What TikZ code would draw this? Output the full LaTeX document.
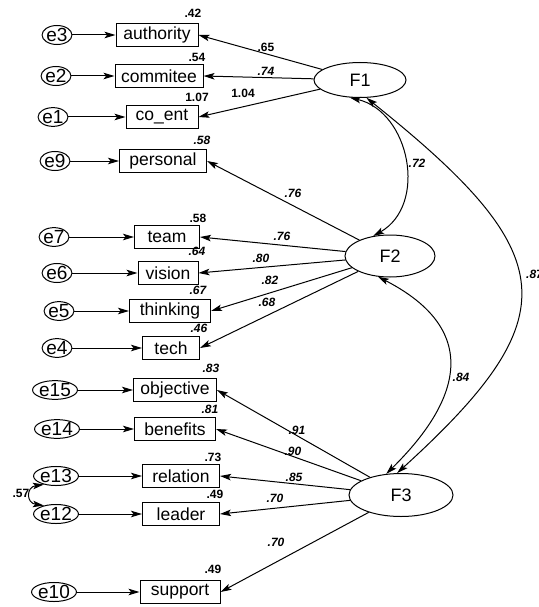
\documentclass[tikz,border=0pt]{standalone}
\usepackage{fontspec}
\setmainfont{Liberation Sans}
\usetikzlibrary{arrows.meta,shapes.geometric}
\begin{document}
\begin{tikzpicture}[x=1pt,y=-1pt,
  tip/.tip={Stealth[length=11pt,width=6.5pt,inset=2.5pt]},
  ind/.style={draw, line width=1pt, minimum height=23pt, inner xsep=3pt, inner ysep=0pt, font=\fontsize{17.5}{18}\selectfont},
  err/.style={draw, ellipse, line width=1pt, minimum width=28pt, minimum height=18pt, inner sep=0pt, font=\fontsize{19}{19}\selectfont},
  lat/.style={draw, ellipse, line width=1pt, inner sep=0pt, font=\fontsize{18}{18}\selectfont},
  num/.style={font=\bfseries\fontsize{12}{12}\selectfont, inner sep=0pt},
  numi/.style={font=\bfseries\itshape\fontsize{12}{12}\selectfont, inner sep=0pt},
  pth/.style={line width=1pt, -tip},
  cov/.style={line width=1pt, tip-tip},
]
\useasboundingbox (0,0) rectangle (538,607);

% latent factors
\node[lat, minimum width=92pt, minimum height=35pt] (F1) at (360,80) {F1};
\node[lat, minimum width=90pt, minimum height=42pt] (F2) at (390,256) {F2};
\node[lat, minimum width=104pt, minimum height=43pt] (F3) at (401,495) {F3};

% indicators
\node[ind, minimum width=82pt] (authority) at (157,35) {authority};
\node[ind, minimum width=88pt] (commitee) at (159,76) {commitee};
\node[ind, minimum width=72pt] (coent) at (162,117) {co\_ent};
\node[ind, minimum width=87pt] (personal) at (163,161) {personal};
\node[ind, minimum width=65pt] (team) at (167,237) {team};
\node[ind, minimum width=60pt] (vision) at (168,273) {vision};
\node[ind, minimum width=81pt] (thinking) at (170,311) {thinking};
\node[ind, minimum width=57pt] (tech) at (171,348) {tech};
\node[ind, minimum width=83pt] (objective) at (175,390) {objective};
\node[ind, minimum width=81pt] (benefits) at (175,429) {benefits};
\node[ind, minimum width=77pt] (relation) at (181,476) {relation};
\node[ind, minimum width=77pt] (leader) at (181,514) {leader};
\node[ind, minimum width=80pt] (support) at (180,592) {support};

% errors
\node[err] (e3) at (57,35) {e3};
\node[err] (e2) at (56,76) {e2};
\node[err] (e1) at (53,117) {e1};
\node[err] (e9) at (55,161) {e9};
\node[err] (e7) at (54,237) {e7};
\node[err] (e6) at (57,273) {e6};
\node[err] (e5) at (59,311) {e5};
\node[err] (e4) at (57,348) {e4};
\node[err] (e15) at (55,390) {e15};
\node[err] (e14) at (57,429) {e14};
\node[err] (e13) at (56,476) {e13};
\node[err] (e12) at (56,514) {e12};
\node[err] (e10) at (54,592) {e10};

% error paths
\foreach \e/\b in {e3/authority,e2/commitee,e1/coent,e9/personal,e7/team,e6/vision,e5/thinking,e4/tech,e15/objective,e14/benefits,e13/relation,e12/leader,e10/support}
  \draw[pth] (\e) -- (\b);

% loadings
\foreach \b in {authority,commitee,coent}
  \draw[pth] (F1) -- (\b.east);
\foreach \b in {personal,team,vision,thinking,tech}
  \draw[pth] (F2) -- (\b.east);
\foreach \b in {objective,benefits,relation,leader,support}
  \draw[pth] (F3) -- (\b.east);

% covariances
\draw[cov] (F1.-120) .. controls (410,112) and (428,205) .. (F2.130);
\draw[cov] (F1.-70) .. controls (562,254) and (570,316) .. (F3.100);
\draw[cov] (F2.-120) .. controls (497,338) and (443,418) .. (F3.125);
\draw[cov] (e13.215) .. controls (26,487) and (26,503) .. (e12.145);

% labels
\node[num] (l42) at (193,13) {.42};
\node[num] (l54) at (197,57) {.54};
\node[num] (l107) at (197,97) {1.07};
\node[num] (l104) at (243,93) {1.04};
\node[num] (l65) at (266,47) {.65};
\node[numi] (l74) at (266,71) {.74};
\node[numi] (l58a) at (202,140) {.58};
\node[numi] (l76a) at (293,193) {.76};
\node[numi] (l72) at (417,163) {.72};
\node[num] (l58b) at (198,218) {.58};
\node[numi] (l76b) at (282,236) {.76};
\node[numi] (l64) at (197,251) {.64};
\node[numi] (l80) at (261,258) {.80};
\node[numi] (l67) at (198,290) {.67};
\node[numi] (l82) at (270,280) {.82};
\node[numi] (l46) at (199,328) {.46};
\node[numi] (l68) at (267,302) {.68};
\node[numi] (l84) at (461,377) {.84};
\node[numi] (l83) at (211,368) {.83};
\node[numi] (l81) at (210,409) {.81};
\node[numi] (l91) at (297,430) {.91};
\node[numi] (l90) at (293,451) {.90};
\node[numi] (l85) at (294,477) {.85};
\node[numi] (l70a) at (275,498) {.70};
\node[num] (l73) at (213,457) {.73};
\node[num] (l49a) at (215,494) {.49};
\node[numi] (l70b) at (276,542) {.70};
\node[num] (l49b) at (213,569) {.49};
\node[num] (l57) at (21,493) {.57};
\node[numi, anchor=west] (l8x) at (526,274) {.87};
\end{tikzpicture}
\end{document}
